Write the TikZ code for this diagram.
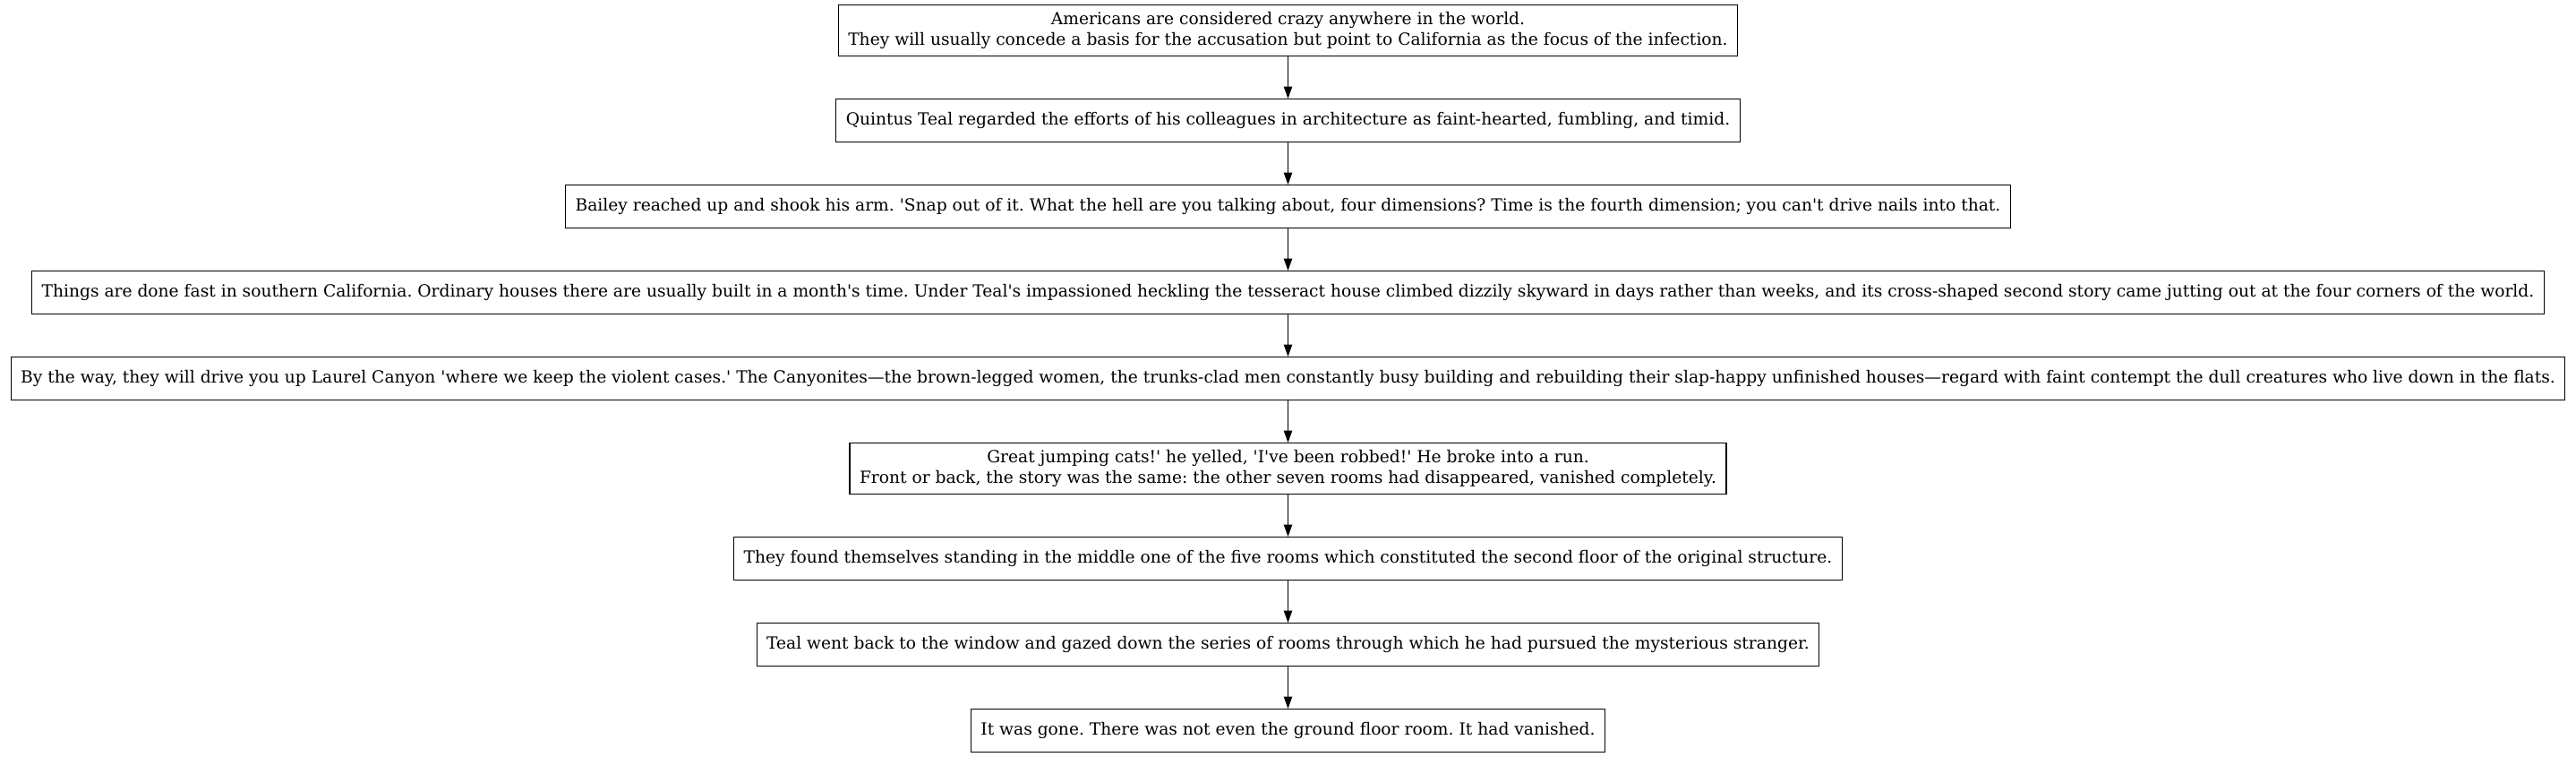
\documentclass[tikz,border=0pt]{standalone}
\usepackage{fontspec}
\setmainfont{DejaVu Serif}[Ligatures=TeXOff]
\usetikzlibrary{positioning,arrows.meta}
\tikzset{
  story/.style={draw, line width=0.9pt, rectangle, align=center, inner xsep=8.2pt, inner ysep=4pt,
    minimum height=36pt, font=\fontsize{14}{16.8}\selectfont\frenchspacing},
  tallstory/.style={story, minimum height=42.75pt},
  flow/.style={-{Triangle[length=10pt,width=7pt]}, line width=0.9pt}
}
\begin{document}
\begin{tikzpicture}[node distance=35.1pt]
    \useasboundingbox (-1078.875pt,0) rectangle (1078.875pt,-633pt);
    \node[tallstory, anchor=north] (americans) at (0,-3.75pt) {Americans are considered crazy anywhere in the world.\\They will usually concede a basis for the accusation but point to California as the focus of the infection.};
    \node[story, below=of americans] (quintus) {Quintus Teal regarded the efforts of his colleagues in architecture as faint-hearted, fumbling, and timid.};
    \node[story, below=of quintus] (bailey) {Bailey reached up and shook his arm. 'Snap out of it. What the hell are you talking about, four dimensions? Time is the fourth dimension; you can't drive nails into that.};
    \node[story, below=of bailey] (fast) {Things are done fast in southern California. Ordinary houses there are usually built in a month's time. Under Teal's impassioned heckling the tesseract house climbed dizzily skyward in days rather than weeks, and its cross-shaped second story came jutting out at the four corners of the world.};
    \node[story, below=of fast] (canyon) {By the way, they will drive you up Laurel Canyon 'where we keep the violent cases.' The Canyonites—the brown-legged women, the trunks-clad men constantly busy building and rebuilding their slap-happy unfinished houses—regard with faint contempt the dull creatures who live down in the flats.};
    \node[tallstory, below=of canyon] (cats) {Great jumping cats!' he yelled, 'I've been robbed!' He broke into a run.\\Front or back, the story was the same: the other seven rooms had disappeared, vanished completely.};
    \node[story, below=of cats] (middle) {They found themselves standing in the middle one of the five rooms which constituted the second floor of the original structure.};
    \node[story, below=of middle] (window) {Teal went back to the window and gazed down the series of rooms through which he had pursued the mysterious stranger.};
    \node[story, below=of window] (gone) {It was gone. There was not even the ground floor room. It had vanished.};
    \foreach \a/\b in {americans/quintus, quintus/bailey, bailey/fast, fast/canyon, canyon/cats, cats/middle, middle/window, window/gone}
        \draw[flow] (\a) -- (\b);
\end{tikzpicture}
\end{document}
